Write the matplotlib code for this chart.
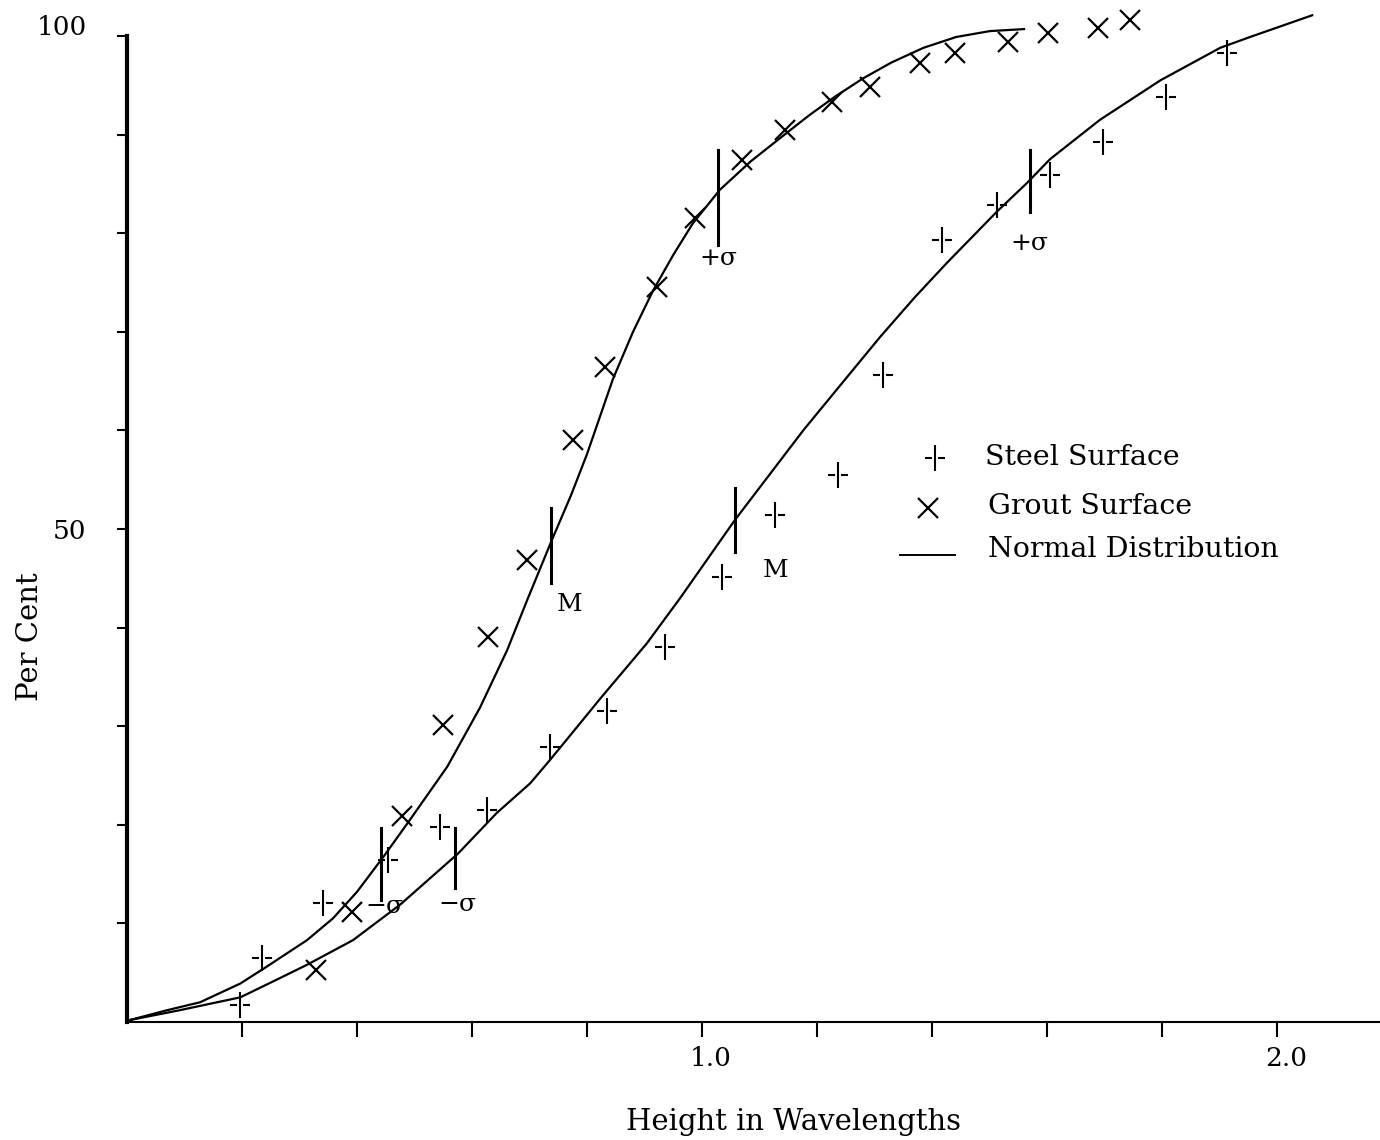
import matplotlib
matplotlib.use("Agg")
from matplotlib import pyplot as plt
from matplotlib.path import Path
from matplotlib.transforms import ScaledTranslation

# ---- data ----
# Grout surface (x markers)
grout_x = [0.329, 0.391, 0.478, 0.550, 0.628, 0.696, 0.776, 0.831, 0.922, 0.988,
           1.070, 1.144, 1.226, 1.292, 1.379, 1.440, 1.532, 1.602, 1.689, 1.744]
grout_y = [5.3, 11.2, 20.9, 30.1, 39.0, 46.9, 59.0, 66.4, 74.5, 81.5,
           87.4, 90.5, 93.3, 94.8, 97.3, 98.3, 99.4, 100.3, 100.8, 101.6]

# Steel surface (crossed bar markers)
steel_x = [0.197, 0.235, 0.341, 0.454, 0.544, 0.626, 0.736, 0.835, 0.936, 1.035,
           1.127, 1.237, 1.315, 1.417, 1.513, 1.605, 1.697, 1.807, 1.913]
steel_y = [1.7, 6.5, 12.1, 16.4, 19.8, 21.5, 27.9, 31.5, 38.0, 45.1,
           51.4, 55.5, 65.6, 79.3, 82.9, 85.9, 89.2, 93.8, 98.3]

# Normal distribution curve fitted to grout
grout_curve_x = [0.005, 0.070, 0.127, 0.197, 0.240, 0.313, 0.358, 0.400, 0.449, 0.492,
                 0.557, 0.614, 0.661, 0.696, 0.739, 0.772, 0.800, 0.845, 0.880, 0.915,
                 0.950, 0.984, 1.031, 1.085, 1.137, 1.185, 1.230, 1.280, 1.329, 1.385,
                 1.442, 1.501, 1.560]
grout_curve_y = [0.2, 1.2, 2.0, 3.9, 5.5, 8.3, 10.5, 13.2, 17.0, 20.5,
                 25.9, 31.9, 37.7, 42.8, 48.9, 53.4, 57.6, 65.2, 70.0, 74.2,
                 77.8, 81.0, 84.4, 87.3, 89.7, 91.9, 93.8, 95.7, 97.3, 98.8,
                 99.9, 100.5, 100.7]

# Normal distribution curve fitted to steel
steel_curve_x = [0.005, 0.092, 0.197, 0.250, 0.313, 0.393, 0.475, 0.576, 0.643, 0.701,
                 0.736, 0.788, 0.823, 0.904, 0.962, 1.057, 1.176, 1.245, 1.310, 1.370,
                 1.426, 1.513, 1.567, 1.605, 1.692, 1.797, 1.901, 1.953, 2.061]
steel_curve_y = [0.2, 1.2, 2.5, 4.0, 5.8, 8.3, 11.9, 17.1, 21.2, 24.2,
                 26.6, 30.3, 32.8, 38.4, 43.0, 50.9, 60.0, 64.9, 69.5, 73.5,
                 77.0, 82.2, 85.2, 87.5, 91.5, 95.5, 98.8, 99.9, 102.1]

# mean / sigma marks: (x, y_low, y_high, label, label_x, label_y)
marks = [
    (0.442, 12.4, 19.7, "\u2212\u03c3", 0.447, 12.9),
    (0.737, 44.5, 52.1, "M", 0.770, 43.5),
    (1.028, 78.8, 88.4, "+\u03c3", 1.028, 78.6),
    (0.570, 13.6, 19.7, "\u2212\u03c3", 0.575, 13.1),
    (1.057, 47.7, 54.2, "M", 1.127, 47.0),
    (1.570, 82.1, 88.4, "+\u03c3", 1.570, 80.1),
]

x_ticks = [0.2, 0.4, 0.6, 0.8, 1.0, 1.2, 1.4, 1.6, 1.8, 2.0]
x_labels = ["", "", "", "", "1.0", "", "", "", "", "2.0"]
y_ticks = [10, 20, 30, 40, 50, 60, 70, 80, 90, 100]
y_labels = ["", "", "", "", "50", "", "", "", "", "100"]

plt.rcParams['font.family'] = ['DejaVu Serif']

# crossed-bar marker used for the steel surface
steel_marker = Path(
    [(0, -1), (0, 1), (-0.78, 0), (-0.22, 0), (0.22, 0), (0.78, 0)],
    [Path.MOVETO, Path.LINETO, Path.MOVETO, Path.LINETO, Path.MOVETO, Path.LINETO])

fig = plt.figure(figsize=(13.8, 11.4), dpi=100)
ax = fig.add_axes([127 / 1380, 118 / 1140, 1253 / 1380, 986 / 1140])
ax.set_xlim(0, 2.179)
ax.set_ylim(0, 100)

ax.plot(grout_curve_x, grout_curve_y, color="black", lw=1.6, clip_on=False)
ax.plot(steel_curve_x, steel_curve_y, color="black", lw=1.6, clip_on=False)

ax.plot(grout_x, grout_y, linestyle="none", marker="x", ms=15, mew=1.6,
        color="black", clip_on=False)
ax.plot(steel_x, steel_y, linestyle="none", marker=steel_marker, ms=19, mew=1.5,
        mfc="none", color="black", clip_on=False)

for mx, ylo, yhi, lab, lx, ly in marks:
    ax.plot([mx, mx], [ylo, yhi], color="black", lw=2.2)
    ax.text(lx, ly, lab, fontsize=18, ha="center", va="top")

# legend drawn by hand, like the original
ax.plot([1.405], [57.2], marker=steel_marker, ms=19, mew=1.5, mfc="none", color="black")
ax.text(1.492, 57.3, "Steel Surface", fontsize=20.5, va="center")
ax.plot([1.393], [52.1], marker="x", ms=15, mew=1.6, color="black")
ax.text(1.497, 52.3, "Grout Surface", fontsize=20.5, va="center")
ax.plot([1.344, 1.440], [47.4, 47.4], color="black", lw=1.4)
ax.text(1.497, 47.9, "Normal Distribution", fontsize=20.5, va="center")

# axes look
for side in ("top", "right"):
    ax.spines[side].set_visible(False)
ax.spines["left"].set_linewidth(3)
ax.spines["left"].set_bounds(0, 100)
ax.spines["bottom"].set_linewidth(1.5)

ax.set_xticks(x_ticks)
ax.set_xticklabels(x_labels, fontsize=19)
ax.set_yticks(y_ticks)
ax.set_yticklabels(y_labels, fontsize=19)
ax.tick_params(axis="x", direction="out", length=11, width=1.5, pad=6)
ax.tick_params(axis="y", direction="out", length=7, width=1.5, pad=22)
for lab in ax.get_xticklabels():
    lab.set_transform(lab.get_transform() + ScaledTranslation(0.09, 0, fig.dpi_scale_trans))
ax.get_yticklabels()[-1].set_transform(
    ax.get_yticklabels()[-1].get_transform() + ScaledTranslation(0.0, 0.11, fig.dpi_scale_trans))

fig.text(793 / 1380, 1 - 1122 / 1140, "Height in Wavelengths", fontsize=21,
         ha="center", va="center")
fig.text(30 / 1380, 1 - 637 / 1140, "Per Cent", fontsize=21, rotation=90,
         ha="center", va="center")

fig.savefig("out.png", dpi=100)
